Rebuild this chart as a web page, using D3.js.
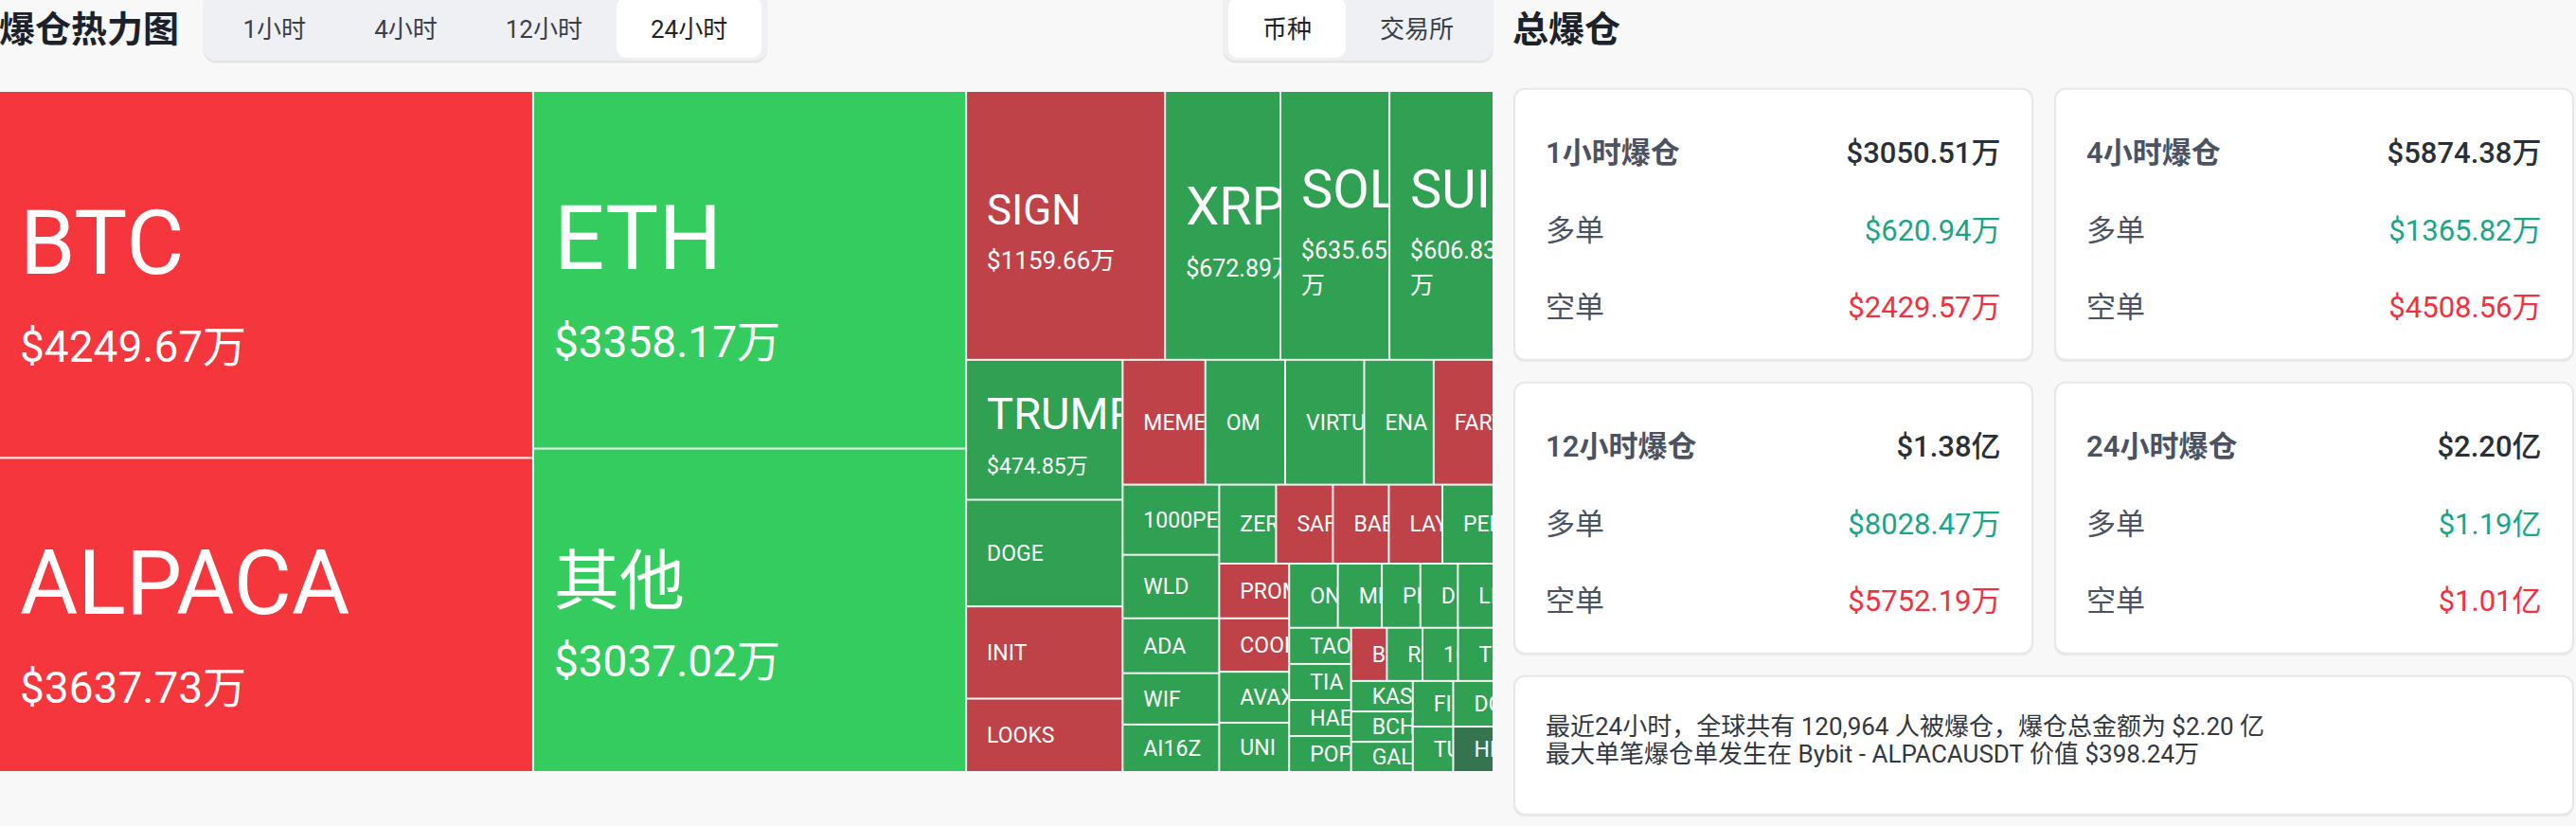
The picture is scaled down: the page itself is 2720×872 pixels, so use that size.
<!DOCTYPE html>
<html><head><meta charset="utf-8">
<script src="https://cdn.jsdelivr.net/npm/d3@7"></script>
<style>
html,body{margin:0;padding:0;background:#f8f8f8;overflow:hidden;}
svg{display:block;}
</style></head><body>
<svg id="c" width="2720" height="872"></svg>
<script>
// ---------- data ----------
const coins = ["BTC","ALPACA","ETH","其他","SIGN","XRP","SOL","SUI","TRUMP","DOGE","INIT","LOOKS","MEME","OM","VIRTUAL","ENA","FARTCOIN","1000PEPE","WLD","ADA","WIF","AI16Z","ZEREBRO","SAFE","BABY","LAYER","PENGU","PROMPT","COOKIE","AVAX","UNI","ONDO","MKR","PNUT","DEEP","LINK","TAO","TIA","HAEDAL","POPCAT","BNB","RAY","1000BONK","TRX","KAS","BCH","GALA","FIL","DOT","TUT","HIPPO"];
const amounts = [4249.67,3637.73,3358.17,3037.02,1159.66,672.89,635.65,606.83,474.85,362,313,249,224,216,214,188,162,147,133,115,107.5,99.5,97.4,97.3,95.8,91.7,87.6,83,81,77.3,74.8,67.8,61.2,53.6,52.2,49.6,48.6,48.5,48.4,48.3,41.2,41.1,41.0,40.9,40.8,40.6,40.4,40.0,39.9,39.8,39.7];
// -2 strong short, -1 short, 0 weak long, 1 long, 2 strong long
const tones = [-2,-2,2,2,-1,1,1,1,1,1,-1,-1,-1,1,1,1,-1,1,1,1,1,1,1,-1,-1,-1,1,-1,-1,1,1,1,1,1,1,1,1,1,1,1,-1,1,1,1,1,1,1,1,1,1,0];

const heatTitle = "爆仓热力图";
const hourTabs = ["1小时","4小时","12小时","24小时"];
const viewTabs = ["币种","交易所"];
const totalTitle = "总爆仓";
const periodLabels = ["1小时爆仓","4小时爆仓","12小时爆仓","24小时爆仓"];
const periodTotals = ["$3050.51万","$5874.38万","$1.38亿","$2.20亿"];
const periodLongs = ["$620.94万","$1365.82万","$8028.47万","$1.19亿"];
const periodShorts = ["$2429.57万","$4508.56万","$5752.19万","$1.01亿"];
const longLabel = "多单", shortLabel = "空单";
const summaryLines = ["最近24小时，全球共有 120,964 人被爆仓，爆仓总金额为 $2.20 亿",
                      "最大单笔爆仓单发生在 Bybit - ALPACAUSDT 价值 $398.24万"];

// ---------- setup ----------
const W = 2720, H = 872;
const FONT = "Roboto, 'Noto Sans CJK SC', sans-serif";
const svg = d3.select("#c").style("font-family", FONT);
svg.append("rect").attr("width", W).attr("height", H).attr("fill", "#f8f8f8");

function measure(txt, size, weight) {
  const t = svg.append("text").attr("font-size", size).attr("font-weight", weight || 400).text(txt);
  const w = t.node().getComputedTextLength();
  t.remove();
  return w;
}

// ---------- header ----------
svg.append("text").attr("x", -1).attr("y", 43.5).attr("font-size", 38).attr("font-weight", 700)
  .attr("fill", "#1d2129").text(heatTitle);

function segment(x, labels, sel, anchorRight) {
  const fs = 26, pad = 36, inner = 6;
  const widths = labels.map(l => measure(l, fs) + pad * 2);
  const total = d3.sum(widths) + inner * 2;
  const x0 = anchorRight ? x - total : x;
  const g = svg.append("g");
  g.append("rect").attr("x", x0).attr("y", -10).attr("width", total).attr("height", 76.5)
    .attr("rx", 14).attr("fill", "#e3e4e8");
  g.append("rect").attr("x", x0).attr("y", -10).attr("width", total).attr("height", 74)
    .attr("rx", 14).attr("fill", "#eff0f4");
  let cx = x0 + inner;
  labels.forEach((l, i) => {
    if (i === sel) {
      g.append("rect").attr("x", cx).attr("y", -3).attr("width", widths[i]).attr("height", 64)
        .attr("rx", 11).attr("fill", "#ffffff");
    }
    g.append("text").attr("x", cx + widths[i] / 2).attr("y", 39.8).attr("text-anchor", "middle")
      .attr("font-size", fs).attr("fill", i === sel ? "#1f2329" : "#3a3f47").text(l);
    cx += widths[i];
  });
}
segment(214.5, hourTabs, 3, false);
segment(1577, viewTabs, 0, true);

svg.append("text").attr("x", 1597).attr("y", 43.5).attr("font-size", 38).attr("font-weight", 700)
  .attr("fill", "#1d2129").text(totalTitle);

// ---------- treemap ----------
const TM = {x: 0, y: 97, w: 1576, h: 717};
const root = d3.hierarchy({children: coins.map((n, i) => ({name: n, amount: amounts[i], tone: tones[i]}))})
  .sum(d => d.amount || 0)
  .sort((a, b) => b.value - a.value);
d3.treemap().tile(d3.treemapSquarify).size([TM.w, TM.h]).paddingInner(2)(root);

const color = d3.scaleOrdinal().domain([-2, -1, 0, 1, 2])
  .range(["#f5363c", "#bf4249", "#34754f", "#30a052", "#35cc5f"]);
const isCJK = s => /[\u3400-\u9fff]/.test(s);
function labelSizes(v, name) {
  if (v >= 3000) return [isCJK(name) ? 69 : 94, 46];
  if (v >= 1000) return [44, 26];
  if (v >= 550) return [56, 25];
  if (v >= 450) return [47, 23];
  return [23, 0];
}
// keep only the glyphs up to the one that crosses the cell edge (the rest is clipped anyway)
function fitText(sel, maxW) {
  const node = sel.node();
  const full = node.textContent;
  if (node.getComputedTextLength() <= maxW) return;
  let k = 1;
  while (k < full.length && node.getSubStringLength(0, k) < maxW) k++;
  sel.text(full.slice(0, k));
}

const gT = svg.append("g").attr("transform", `translate(${TM.x},${TM.y})`);
const leaves = gT.selectAll("g.leaf").data(root.leaves()).join("g").attr("class", "leaf")
  .attr("transform", d => `translate(${d.x0},${d.y0})`);
leaves.append("clipPath").attr("id", (d, i) => "cp" + i)
  .append("rect").attr("width", d => d.x1 - d.x0).attr("height", d => d.y1 - d.y0);
leaves.append("rect").attr("width", d => d.x1 - d.x0).attr("height", d => d.y1 - d.y0)
  .attr("fill", d => color(d.data.tone));

leaves.each(function (d, i) {
  const w = d.x1 - d.x0, h = d.y1 - d.y0, cy = h / 2, px = 21;
  const name = d.data.name, v = d.data.amount;
  const [f1, f2] = labelSizes(v, name);
  const g = d3.select(this).append("g").attr("clip-path", `url(#cp${i})`)
    .attr("fill", "#ffffff").style("font-family", FONT);
  if (!f2) {
    const t = g.append("text").attr("x", px).attr("y", cy + 0.355 * f1).attr("font-size", f1).text(name);
    fitText(t, w - px);
    return;
  }
  const valStr = "$" + v.toFixed(2) + "万";
  const tw = measure(valStr, f2);
  const wrap = tw > w - 2;
  const cjk = isCJK(name);
  const capH = cjk ? 0.875 * f1 : 0.711 * f1;
  const gap = 0.7 * f1 + 0.6 * f2;
  const extra = wrap ? 1.47 * f2 : 0;
  const blockH = capH + gap + extra;
  const shift = cjk ? 0.03 * f2 : 0.27 * f2;
  const nb = cy + shift - blockH / 2 + capH;
  const nt = g.append("text").attr("x", px).attr("y", nb).attr("font-size", f1).text(name);
  fitText(nt, w - px);
  const lines = wrap ? ["$" + v.toFixed(2), "万"] : [valStr];
  lines.forEach((s, k) => {
    const t = g.append("text").attr("x", px).attr("y", nb + gap + k * 1.47 * f2)
      .attr("font-size", f2).text(s);
    fitText(t, w - px);
  });
});

// ---------- right panel cards ----------
const P = {x0: 1598, x1: 2718, y0: 92.7, gap: 22, h: 288};
const cw = (P.x1 - P.x0 - P.gap) / 2;
function card(x, y, w, h) {
  svg.append("rect").attr("x", x).attr("y", y + 1.5).attr("width", w).attr("height", h)
    .attr("rx", 12).attr("fill", "#e9eaee");
  svg.append("rect").attr("x", x + 1).attr("y", y + 1).attr("width", w - 2).attr("height", h - 2)
    .attr("rx", 11).attr("fill", "#ffffff").attr("stroke", "#e6e7eb").attr("stroke-width", 2);
}
periodLabels.forEach((lab, i) => {
  const x = P.x0 + (i % 2) * (cw + P.gap);
  const y = P.y0 + Math.floor(i / 2) * (P.h + P.gap);
  card(x, y, cw, P.h);
  const cy = y + P.h / 2, fs = 31, off = 0.37 * fs;
  const rows = [
    {l: lab, v: periodTotals[i], lw: 600, lc: "#4b5262", vc: "#2b2f36", vw: 500, dy: -75.7},
    {l: longLabel, v: periodLongs[i], lw: 400, lc: "#4b5262", vc: "#1aa587", vw: 400, dy: 5.5},
    {l: shortLabel, v: periodShorts[i], lw: 400, lc: "#4b5262", vc: "#f0313f", vw: 400, dy: 87.2}
  ];
  rows.forEach(r => {
    svg.append("text").attr("x", x + 34).attr("y", cy + r.dy + off).attr("font-size", fs)
      .attr("font-weight", r.lw).attr("fill", r.lc).text(r.l);
    svg.append("text").attr("x", x + cw - 34.5).attr("y", cy + r.dy + off).attr("font-size", fs)
      .attr("text-anchor", "end").attr("font-weight", r.vw).attr("fill", r.vc).text(r.v);
  });
});
const sy = P.y0 + 2 * (P.h + P.gap);
card(P.x0, sy, P.x1 - P.x0, 148);
summaryLines.forEach((t, k) => {
  svg.append("text").attr("x", 1632).attr("y", sy + 54 + k * 29.1 + 9.6).attr("font-size", 26)
    .attr("fill", "#33373e").text(t);
});
</script>
</body></html>
